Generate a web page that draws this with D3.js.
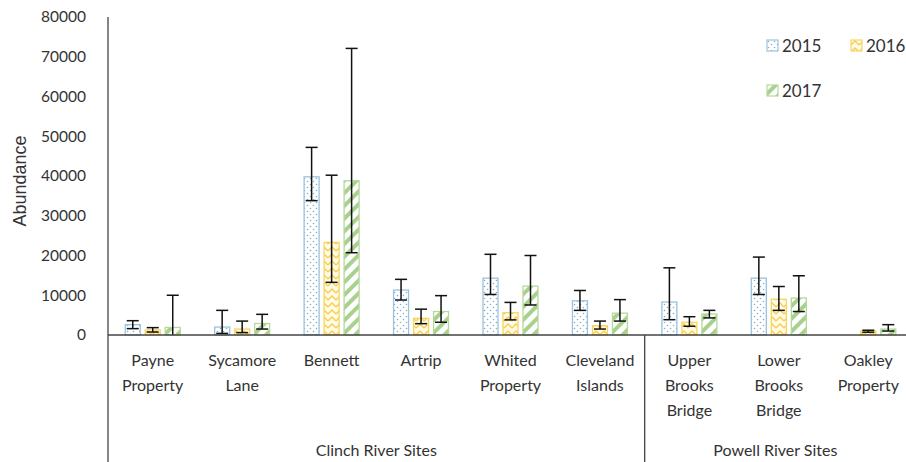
<!DOCTYPE html>
<html>
<head>
<meta charset="utf-8">
<script src="https://cdn.jsdelivr.net/npm/d3@7"></script>
<style>
  html, body { margin: 0; padding: 0; background: #fff; }
  svg { display: block; }
  text { font-family: Lato, "Liberation Sans", sans-serif; fill: #333; }
</style>
</head>
<body>
<svg id="chart" width="906" height="462"></svg>
<script>
// Sites along the category axis, with the river each belongs to
const categories = ["Payne Property", "Sycamore Lane", "Bennett", "Artrip", "Whited Property",
  "Cleveland Islands", "Upper Brooks Bridge", "Lower Brooks Bridge", "Oakley Property"];
const categoryLines = [["Payne", "Property"], ["Sycamore", "Lane"], ["Bennett"], ["Artrip"],
  ["Whited", "Property"], ["Cleveland", "Islands"], ["Upper", "Brooks", "Bridge"],
  ["Lower", "Brooks", "Bridge"], ["Oakley", "Property"]];
const rivers = ["Clinch River Sites", "Powell River Sites"];
const riverSiteCounts = [6, 3];

const years = ["2015", "2016", "2017"];

// Mean abundance per site and year (null = not sampled)
const values2015 = [2600, 2000, 39800, 11300, 14300, 8600, 8300, 14300, null];
const values2016 = [1300, 1500, 23300, 4200, 5600, 2350, 3200, 9000, 1000];
const values2017 = [1900, 2900, 38800, 5900, 12300, 5500, 5300, 9300, 1500];

// Lower and upper error-bar limits
const lower2015 = [1600, 400, 33800, 8800, 10200, 6200, 3850, 10200, null];
const upper2015 = [3600, 6200, 47200, 14000, 20300, 11200, 16900, 19600, null];
const lower2016 = [750, 600, 13250, 2850, 3800, 1500, 2200, 6200, 700];
const upper2016 = [1850, 3500, 40200, 6500, 8200, 3500, 4600, 12200, 1200];
const lower2017 = [0, 1500, 20700, 3200, 7550, 3500, 4300, 5900, 1000];
const upper2017 = [10000, 5200, 72100, 9900, 20000, 8900, 6200, 14900, 2600];

const yTicks = [0, 10000, 20000, 30000, 40000, 50000, 60000, 70000, 80000];

const series = [
  { year: years[0], values: values2015, lower: lower2015, upper: upper2015 },
  { year: years[1], values: values2016, lower: lower2016, upper: upper2016 },
  { year: years[2], values: values2017, lower: lower2017, upper: upper2017 }
];

const svg = d3.select("#chart");
const plotLeft = 108, plotRight = 913, plotTop = 17, plotBottom = 335;

// Fill patterns: dots for 2015, chevrons for 2016, diagonal stripes for 2017
const defs = svg.append("defs");
const dots = defs.append("pattern").attr("id", "pat2015")
  .attr("patternUnits", "userSpaceOnUse").attr("width", 6).attr("height", 6);
dots.append("rect").attr("width", 6).attr("height", 6).attr("fill", "#fff");
dots.append("circle").attr("cx", 1.5).attr("cy", 1.5).attr("r", 0.8).attr("fill", "#7fb0cf");
dots.append("circle").attr("cx", 4.5).attr("cy", 4.5).attr("r", 0.8).attr("fill", "#7fb0cf");

const chev = defs.append("pattern").attr("id", "pat2016")
  .attr("patternUnits", "userSpaceOnUse").attr("width", 8).attr("height", 7);
chev.append("rect").attr("width", 8).attr("height", 7).attr("fill", "#fffbe8");
chev.append("path").attr("d", "M0,6 L4,2 L8,6").attr("fill", "none")
  .attr("stroke", "#f5cf4a").attr("stroke-width", 1.4);

const stripes = defs.append("pattern").attr("id", "pat2017")
  .attr("patternUnits", "userSpaceOnUse").attr("width", 9).attr("height", 9)
  .attr("patternTransform", "rotate(45)");
stripes.append("rect").attr("width", 9).attr("height", 9).attr("fill", "#fff");
stripes.append("rect").attr("width", 4).attr("height", 9).attr("fill", "#a9d18e");

const fills = { "2015": "url(#pat2015)", "2016": "url(#pat2016)", "2017": "url(#pat2017)" };
const strokes = { "2015": "#9cc3dc", "2016": "#f7d564", "2017": "#b5d89c" };

// Scales
const x0 = d3.scaleBand().domain(categories).range([plotLeft, plotRight])
  .paddingInner(0.374).paddingOuter(0.187);
const x1 = d3.scaleBand().domain(years).range([0, x0.bandwidth()]).paddingInner(0.2);
const y = d3.scaleLinear().domain([0, 80000]).range([plotBottom, plotTop]);

// Y axis tick labels
const yAxis = d3.axisLeft(y).tickValues(yTicks).tickSize(0).tickPadding(22)
  .tickFormat(d3.format("d"));
const gy = svg.append("g").attr("transform", `translate(${plotLeft},0)`).call(yAxis);
gy.select(".domain").remove();
gy.selectAll("text").attr("font-size", 15.5).style("fill", "#333")
  .style("font-family", "Lato, 'Liberation Sans', sans-serif");

svg.append("text").attr("transform", `translate(26,${(plotTop + plotBottom) / 2 + 5}) rotate(-90)`)
  .attr("text-anchor", "middle").attr("font-size", 18)
  .style("font-family", "'Liberation Sans', Arial, sans-serif").text("Abundance");

// Bars
const groups = svg.append("g").selectAll("g").data(series).join("g");
groups.selectAll("rect")
  .data(s => categories.map((c, i) => ({ year: s.year, cat: c, v: s.values[i] })).filter(d => d.v != null))
  .join("rect")
  .attr("x", d => x0(d.cat) + x1(d.year) + 0.5)
  .attr("y", d => y(d.v))
  .attr("width", x1.bandwidth() - 1)
  .attr("height", d => y(0) - y(d.v))
  .attr("fill", d => fills[d.year])
  .attr("stroke", d => strokes[d.year])
  .attr("stroke-width", 1.3);

// Error bars
const errData = [];
series.forEach(s => categories.forEach((c, i) => {
  if (s.values[i] != null) errData.push({ year: s.year, cat: c, lo: s.lower[i], hi: s.upper[i] });
}));
const eg = svg.append("g").attr("stroke", "#111").attr("stroke-width", 1.5);
const ex = d => x0(d.cat) + x1(d.year) + x1.bandwidth() / 2;
eg.selectAll("line.v").data(errData).join("line").attr("class", "v")
  .attr("x1", ex).attr("x2", ex).attr("y1", d => y(d.lo)).attr("y2", d => y(d.hi));
eg.selectAll("line.t").data(errData).join("line").attr("class", "t")
  .attr("x1", d => ex(d) - 6).attr("x2", d => ex(d) + 6).attr("y1", d => y(d.hi)).attr("y2", d => y(d.hi));
eg.selectAll("line.b").data(errData.filter(d => d.lo > 0)).join("line").attr("class", "b")
  .attr("x1", d => ex(d) - 6).attr("x2", d => ex(d) + 6).attr("y1", d => y(d.lo)).attr("y2", d => y(d.lo));

// Axis lines
const axisColor = "#444";
svg.append("line").attr("x1", plotLeft).attr("x2", plotLeft).attr("y1", plotTop).attr("y2", 462)
  .attr("stroke", axisColor).attr("stroke-width", 1.3);
svg.append("line").attr("x1", plotLeft).attr("x2", plotRight).attr("y1", plotBottom).attr("y2", plotBottom)
  .attr("stroke", axisColor).attr("stroke-width", 1.3);

// Separator between river groups
let acc = 0;
riverSiteCounts.slice(0, -1).forEach(n => {
  acc += n;
  const sx = x0(categories[acc]) - x0.step() * x0.paddingInner() / 2;
  svg.append("line").attr("x1", sx).attr("x2", sx).attr("y1", plotBottom).attr("y2", 462)
    .attr("stroke", axisColor).attr("stroke-width", 1.3);
});

// Category labels
const catG = svg.append("g").selectAll("text").data(categories).join("text")
  .attr("text-anchor", "middle").attr("font-size", 16)
  .attr("x", c => x0(c) + x0.bandwidth() / 2);
catG.each(function (c, i) {
  d3.select(this).selectAll("tspan").data(categoryLines[i]).join("tspan")
    .attr("x", x0(c) + x0.bandwidth() / 2)
    .attr("y", (d, j) => 366 + j * 25)
    .text(d => d);
});

// River group labels
let start = 0;
rivers.forEach((r, k) => {
  const first = categories[start], last = categories[start + riverSiteCounts[k] - 1];
  const gx0 = Math.max(plotLeft, x0(first) - x0.step() * x0.paddingInner() / 2);
  const gx1 = Math.min(906, x0(last) + x0.bandwidth() + x0.step() * x0.paddingInner() / 2);
  svg.append("text").attr("x", (gx0 + gx1) / 2).attr("y", 456)
    .attr("text-anchor", "middle").attr("font-size", 16).text(r);
  start += riverSiteCounts[k];
});

// Legend
const legendPos = [[767, 46], [851, 46], [767, 91]];
const lg = svg.append("g").selectAll("g").data(years).join("g")
  .attr("transform", (d, i) => `translate(${legendPos[i][0]},${legendPos[i][1]})`);
lg.append("rect").attr("x", 0).attr("y", -6).attr("width", 11).attr("height", 11)
  .attr("fill", d => fills[d]).attr("stroke", d => strokes[d]).attr("stroke-width", 1.2);
lg.append("text").attr("x", 15).attr("y", 6).attr("font-size", 17).text(d => d);
</script>
</body>
</html>
